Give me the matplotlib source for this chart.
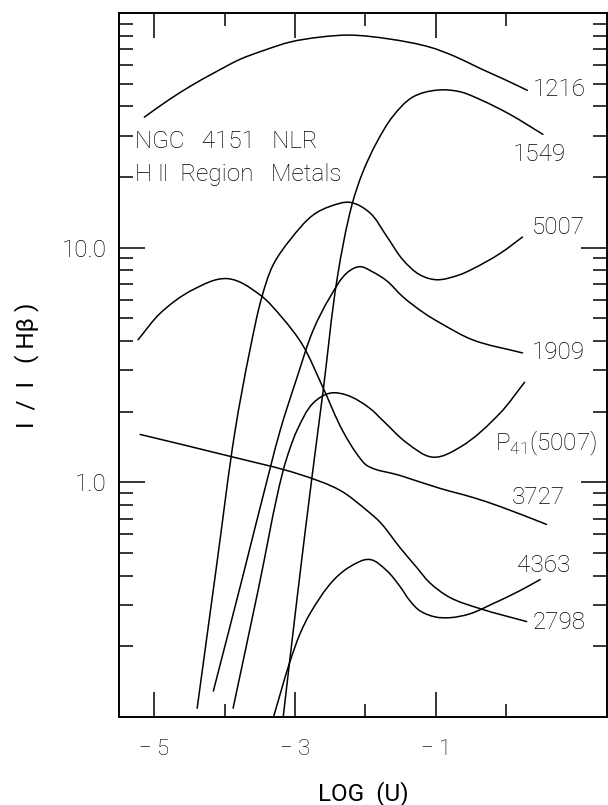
import numpy as np
import matplotlib
matplotlib.use("Agg")
import matplotlib.pyplot as plt
from matplotlib.path import Path
from matplotlib.patches import PathPatch
from matplotlib.ticker import FixedLocator, FixedFormatter, NullFormatter

plt.rcParams['font.family'] = ['Roboto', 'DejaVu Sans']
plt.rcParams['font.weight'] = 'light'

# ---- data (log U, I/I(Hbeta)) ----
u_1216 = [-5.14, -4.82, -4.49, -4.13, -3.78, -3.43, -3.07, -2.65, -2.22, -1.65, -1.09, -0.73, -0.38, -0.02, 0.30]
r_1216 = [36.0, 42.1, 48.7, 56.0, 63.5, 69.5, 75.2, 78.9, 80.5, 77.4, 71.6, 65.3, 58.2, 52.0, 46.8]

u_1549 = [-3.17, -2.97, -2.76, -2.60, -2.40, -2.19, -2.04, -1.84, -1.61, -1.33, -0.99, -0.66, -0.38, 0.05, 0.52]
r_1549 = [0.099, 0.323, 1.05, 2.47, 7.45, 15.3, 20.9, 28.1, 36.3, 43.8, 46.9, 46.2, 42.9, 37.0, 30.4]

u_5007 = [-4.39, -4.11, -3.85, -3.64, -3.47, -3.31, -3.07, -2.74, -2.50, -2.22, -1.94, -1.70, -1.47, -1.23, -0.99, -0.66, -0.48, -0.09, 0.23]
r_5007 = [0.109, 0.451, 1.67, 3.67, 6.18, 8.46, 10.8, 13.8, 15.0, 15.6, 14.1, 11.2, 8.89, 7.67, 7.30, 7.67, 8.11, 9.44, 11.1]

u_1909 = [-4.16, -3.75, -3.35, -3.21, -2.97, -2.74, -2.50, -2.26, -2.08, -1.90, -1.70, -1.47, -1.17, -0.94, -0.48, 0.23]
r_1909 = [0.129, 0.389, 1.16, 1.67, 2.81, 4.47, 6.18, 7.82, 8.3, 7.89, 7.23, 6.18, 5.27, 4.78, 4.05, 3.56]

u_p41 = [-3.88, -3.52, -3.17, -3.07, -2.97, -2.74, -2.50, -2.26, -1.94, -1.75, -1.41, -1.04, -0.66, -0.09, 0.26]
r_p41 = [0.109, 0.352, 1.12, 1.40, 1.67, 2.18, 2.40, 2.35, 2.07, 1.83, 1.47, 1.28, 1.41, 1.97, 2.67]

u_3727 = [-5.23, -4.91, -4.45, -3.96, -3.50, -3.18, -2.90, -2.62, -2.32, -2.08, -1.98, -1.51, -0.94, -0.48, -0.09, 0.57]
r_3727 = [4.05, 5.27, 6.62, 7.38, 6.3, 5.02, 3.88, 2.60, 1.65, 1.27, 1.18, 1.07, 0.942, 0.863, 0.789, 0.662]

u_2798 = [-5.20, -3.92, -2.93, -2.36, -1.98, -1.79, -1.51, -1.27, -1.09, -0.80, -0.38, 0.29]
r_2798 = [1.60, 1.29, 1.08, 0.924, 0.759, 0.675, 0.527, 0.433, 0.374, 0.323, 0.290, 0.255]

u_4363 = [-3.31, -3.07, -2.93, -2.79, -2.46, -2.22, -1.94, -1.70, -1.51, -1.37, -1.23, -1.01, -0.80, -0.52, -0.19, 0.19, 0.48]
r_4363 = [0.099, 0.173, 0.226, 0.275, 0.381, 0.437, 0.469, 0.421, 0.360, 0.313, 0.284, 0.267, 0.265, 0.275, 0.304, 0.345, 0.385]

x_major = [-5, -3, -1]
x_major_labels = ['\u2212 5', '\u2212 3', '\u2212 1']
x_minor = [-4, -2, 0]
y_major = [1.0, 10.0]
y_major_labels = ['1.0', '10.0']
y_minor = [0.2, 0.3, 0.4, 0.5, 0.6, 0.7, 0.8, 0.9,
           2, 3, 4, 5, 6, 7, 8, 9,
           20, 30, 40, 50, 60, 70, 80, 90]


def smooth_path(u, r, sx=70.5, sy=234.0):
    """Cubic Bezier path through the given points (drawn as a smooth curve)."""
    P = np.column_stack([np.asarray(u, float) * sx, np.log10(np.asarray(r, float)) * sy])
    n = len(P)
    D = np.zeros_like(P)
    for i in range(n):
        if i == 0:
            d = P[1] - P[0]
            d = d / np.hypot(*d)
        elif i == n - 1:
            d = P[-1] - P[-2]
            d = d / np.hypot(*d)
        else:
            a = P[i] - P[i - 1]
            b = P[i + 1] - P[i]
            d = a / np.hypot(*a) + b / np.hypot(*b)
            d = d / np.hypot(*d)
        D[i] = d
    verts = [P[0]]
    codes = [Path.MOVETO]
    for i in range(n - 1):
        L = np.hypot(*(P[i + 1] - P[i]))
        verts += [P[i] + D[i] * L / 3, P[i + 1] - D[i + 1] * L / 3, P[i + 1]]
        codes += [Path.CURVE4] * 3
    V = np.array(verts)
    V = np.column_stack([V[:, 0] / sx, 10 ** (V[:, 1] / sy)])
    return Path(V, codes)


# ---- figure ----
fig = plt.figure(figsize=(6.08, 8.05), dpi=100)
ax = fig.add_axes([119/608, 1-717/805, (607-119)/608, (717-13)/805])
ax.set_yscale('log')
ax.set_xlim(-5.5, 1.43)
ax.set_ylim(0.1, 100)

series = [(u_1216, r_1216), (u_1549, r_1549), (u_5007, r_5007), (u_1909, r_1909),
          (u_p41, r_p41), (u_3727, r_3727), (u_2798, r_2798), (u_4363, r_4363)]
for u, r in series:
    ax.add_patch(PathPatch(smooth_path(u, r), facecolor='none', edgecolor='black',
                           lw=1.1, capstyle='round', joinstyle='round'))

ax.xaxis.set_major_locator(FixedLocator(x_major))
ax.xaxis.set_major_formatter(FixedFormatter(x_major_labels))
ax.xaxis.set_minor_locator(FixedLocator(x_minor))
ax.xaxis.set_minor_formatter(NullFormatter())
ax.yaxis.set_major_locator(FixedLocator(y_major))
ax.yaxis.set_major_formatter(FixedFormatter(y_major_labels))
ax.yaxis.set_minor_locator(FixedLocator(y_minor))
ax.yaxis.set_minor_formatter(NullFormatter())

ax.tick_params(which='both', direction='in', top=True, right=True, width=1.1, color='black',
               labelcolor='black')
ax.tick_params(axis='x', which='major', length=18, pad=16, labelsize=16)
ax.tick_params(axis='x', which='minor', length=9.5)
ax.tick_params(axis='y', which='major', length=19, pad=9, labelsize=17.5)
ax.tick_params(axis='y', which='minor', length=10)
for s in ax.spines.values():
    s.set_linewidth(1.4)

ax.set_xlabel('LOG  (U)', fontsize=17.5, labelpad=15, color='black')
ax.set_ylabel('I  /  I   ( H\u03b2 )', fontsize=17.5, labelpad=16, color='black')

fs = 17.5
ax.text(0.376, 47.3, '1216', fontsize=fs, va='center', ha='left', color='black')
ax.text(0.09, 24.9, '1549', fontsize=fs, va='center', ha='left', color='black')
ax.text(0.36, 12.2, '5007', fontsize=fs, va='center', ha='left', color='black')
ax.text(0.36, 3.56, '1909', fontsize=fs, va='center', ha='left', color='black')
ax.text(-0.163, 1.47, r'P$_{\mathregular{41}}$(5007)', fontsize=fs, va='center', ha='left', color='black')
ax.text(0.078, 0.863, '3727', fontsize=fs, va='center', ha='left', color='black')
ax.text(0.149, 0.441, '4363', fontsize=fs, va='center', ha='left', color='black')
ax.text(0.376, 0.252, '2798', fontsize=fs, va='center', ha='left', color='black')
ax.text(-5.27, 28.4, 'NGC   4151   NLR', fontsize=fs, va='center', ha='left', color='black')
ax.text(-5.27, 20.5, 'H \u2161  Region   Metals', fontsize=fs, va='center', ha='left', color='black')

fig.savefig('out.png', dpi=100)
